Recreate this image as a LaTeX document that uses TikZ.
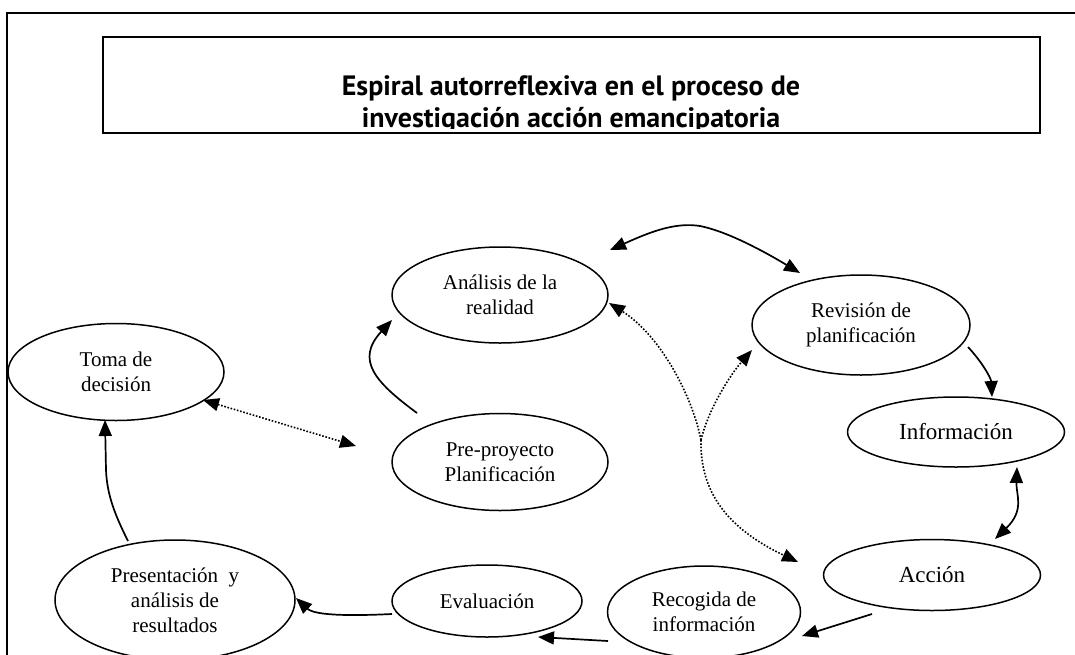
\documentclass[tikz,border=0pt]{standalone}
\usepackage{fontspec}
\setmainfont{Liberation Serif}
\newfontfamily\titlefont{PT Sans}[Ligatures=NoCommon]
\usetikzlibrary{shapes.geometric,arrows.meta,calc}
\begin{document}
\begin{tikzpicture}[x=1pt,y=-1pt,
  bub/.style={ellipse,draw,line width=1.5pt,inner sep=0pt,align=center,font=\fontsize{21}{25}\selectfont},
  bigbub/.style={bub,font=\fontsize{23}{27}\selectfont},
  arr/.style={line width=1.7pt,-{Triangle[length=16pt,width=13pt]}},
  darr/.style={line width=1.7pt,{Triangle[length=16pt,width=13pt]}-{Triangle[length=16pt,width=13pt]}},
  dot/.style={line width=1.6pt,dash pattern=on 1.6pt off 1.7pt}]
\useasboundingbox (0,0) rectangle (1075,654);
\clip (0,0) rectangle (1075,654);
% frames
\draw[line width=2pt] (7,660) -- (7,13) -- (1080,13);
\draw[line width=1.6pt] (103,37) rectangle (1040,133);
\begin{scope}
\clip (103,37) rectangle (1040,128);
\node[font=\titlefont\bfseries\fontsize{28}{32}\selectfont,align=center,inner sep=0pt] (title) at (571,105)
  {Espiral autorreflexiva en el proceso de\\investigación acción emancipatoria};
\end{scope}
% nodes
\node[bub,minimum width=216pt,minimum height=97pt] (toma) at (116,372) {Toma de\\decisión};
\node[bub,minimum width=216pt,minimum height=96pt] (analisis) at (500,295) {Análisis de la\\realidad};
\node[bub,minimum width=216pt,minimum height=97pt] (pre) at (500,462) {Pre-proyecto\\Planificación};
\node[bub,minimum width=218pt,minimum height=100pt] (revision) at (861,325) {Revisión de\\planificación};
\node[bigbub,minimum width=217pt,minimum height=70pt] (informacion) at (956,432) {Información};
\node[bigbub,minimum width=217pt,minimum height=71pt] (accion) at (932,575) {Acción};
\node[bub,minimum width=240pt,minimum height=120pt] (presentacion) at (175,600) {Presentación\ \ y\\análisis de\\resultados};
\node[bub,minimum width=190pt,minimum height=72pt] (evaluacion) at (487,601) {Evaluación};
\node[bub,minimum width=193pt,minimum height=92pt] (recogida) at (704,612) {Recogida de\\información};
% solid connectors
\draw[arr] ($(presentacion)+(-47,-59)$) .. controls (115,515) and (107,495) .. (106,470) -- ($(toma)+(-11,48)$);
\draw[arr] ($(evaluacion)+(-95,13)$) .. controls (330,617) and (312,613) .. ($(presentacion)+(121,-2)$);
\draw[arr] ($(recogida)+(-96,29)$) -- ($(evaluacion)+(51,36)$);
\draw[arr] ($(accion)+(-60,39)$) -- ($(recogida)+(98,24)$);
\draw[darr] ($(informacion)+(61,35)$) .. controls (1016,495) and (1025,510) .. ($(accion)+(63,-36)$);
\draw[arr] ($(revision)+(107,22)$) .. controls (982,362) and (991,378) .. ($(informacion)+(36,-35)$);
\draw[darr] ($(analisis)+(110,-45)$) .. controls (650,232) and (675,222) .. (700,226) .. controls (730,232) and (770,255) .. ($(revision)+(-61,-52)$);
\draw[arr] ($(pre)+(-83,-49)$) .. controls (375,382) and (355,360) .. ($(analisis)+(-108,25)$);
% dotted connectors
\draw[darr,dot] ($(toma)+(87,28)$) -- ($(pre)+(-144,-16)$);
\coordinate (j) at (701,440);
\draw[arr,dot] (j) .. controls (692,395) and (660,335) .. ($(analisis)+(109,8)$);
\draw[arr,dot] (j) .. controls (708,410) and (730,375) .. ($(revision)+(-109,25)$);
\draw[arr,dot] (j) .. controls (700,485) and (720,525) .. ($(accion)+(-134,-13)$);
\end{tikzpicture}
\end{document}
